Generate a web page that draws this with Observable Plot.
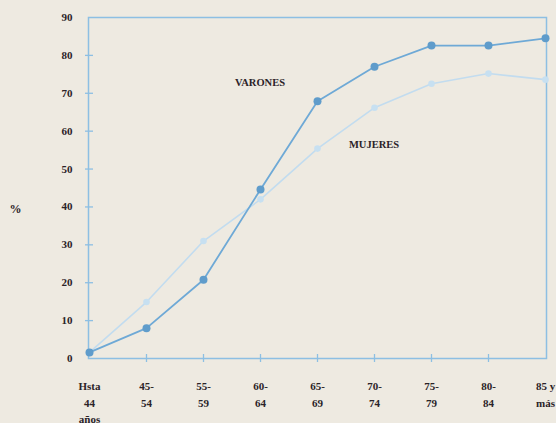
<!DOCTYPE html>
<html>
<head>
<meta charset="utf-8">
<script src="https://cdn.jsdelivr.net/npm/d3@7"></script>
<script src="https://cdn.jsdelivr.net/npm/@observablehq/plot@0.6"></script>
<style>
  html, body { margin: 0; padding: 0; background: #eeeae1; }
  #chart { width: 556px; height: 423px; overflow: hidden; }
</style>
</head>
<body>
<div id="chart"></div>
<script>
const categories = ["Hsta\n44\naños", "45-\n54", "55-\n59", "60-\n64", "65-\n69", "70-\n74", "75-\n79", "80-\n84", "85 y\nmás"];
const varones = [1.6, 8.0, 20.8, 44.6, 67.9, 77.0, 82.6, 82.6, 84.5];
const mujeres = [1.6, 14.9, 31.0, 42.0, 55.4, 66.2, 72.5, 75.2, 73.6];
const yTicks = [0, 10, 20, 30, 40, 50, 60, 70, 80, 90];
const seriesLabels = [
  {text: "VARONES", x: "60-\n64", y: 72.6, dx: -5},
  {text: "MUJERES", x: "70-\n74", y: 56.2, dx: -2}
];

const vData = categories.map((c, i) => ({cat: c, v: varones[i]}));
const mData = categories.map((c, i) => ({cat: c, v: mujeres[i]}));
const first = () => categories[0];

const frameColor = "#8dbfe3";
const textColor = "#2b2328";
const font = "Liberation Serif, DejaVu Serif, serif";

const chart = Plot.plot({
  width: 556,
  height: 423,
  marginLeft: 88,
  marginRight: 10,
  marginTop: 17,
  marginBottom: 65,
  style: {background: "#eeeae1", fontFamily: font, color: textColor},
  x: {type: "point", domain: categories, padding: 0, axis: null},
  y: {domain: [0, 90], axis: null},
  marks: [
    Plot.frame({stroke: frameColor, strokeWidth: 1.5}),
    // y ticks crossing the axis
    Plot.ruleY(yTicks.filter(t => t > 0 && t < 90), {y: d => d, x1: first, x2: first, insetLeft: -4, insetRight: -4, stroke: frameColor, strokeWidth: 1.3}),
    // x ticks crossing the axis
    Plot.ruleX(categories.slice(1, -1), {x: d => d, y1: () => 0, y2: () => 0, insetTop: -4, insetBottom: -4, stroke: frameColor, strokeWidth: 1.3}),
    // y tick labels
    Plot.text(yTicks, {x: first, y: d => d, text: d => String(d), dx: -17, textAnchor: "end", fontSize: 11, fontWeight: "bold", fill: textColor}),
    // x tick labels
    Plot.text(categories, {x: d => d, y: () => 0, text: d => d, dy: 20, lineAnchor: "top", lineHeight: 1.5, fontSize: 11, fontWeight: "bold", fill: textColor}),
    // % label
    Plot.text(["%"], {x: first, y: () => 40, text: d => d, dx: -74, dy: 2, fontSize: 12, fontWeight: "bold", fill: textColor}),
    // mujeres
    Plot.line(mData, {x: "cat", y: "v", stroke: "#c2dcef", strokeWidth: 1.6}),
    Plot.dot(mData, {x: "cat", y: "v", r: 3.3, fill: "#c7e0f1"}),
    // varones
    Plot.line(vData, {x: "cat", y: "v", stroke: "#6ea9d6", strokeWidth: 1.8}),
    Plot.dot(vData, {x: "cat", y: "v", r: 4, fill: "#5f9ccb"}),
    // series labels
    Plot.text(seriesLabels, {x: "x", y: "y", text: "text", dx: "dx", fontSize: 10.5, fontWeight: "bold", fill: textColor})
  ]
});
document.getElementById("chart").appendChild(chart);
</script>
</body>
</html>
